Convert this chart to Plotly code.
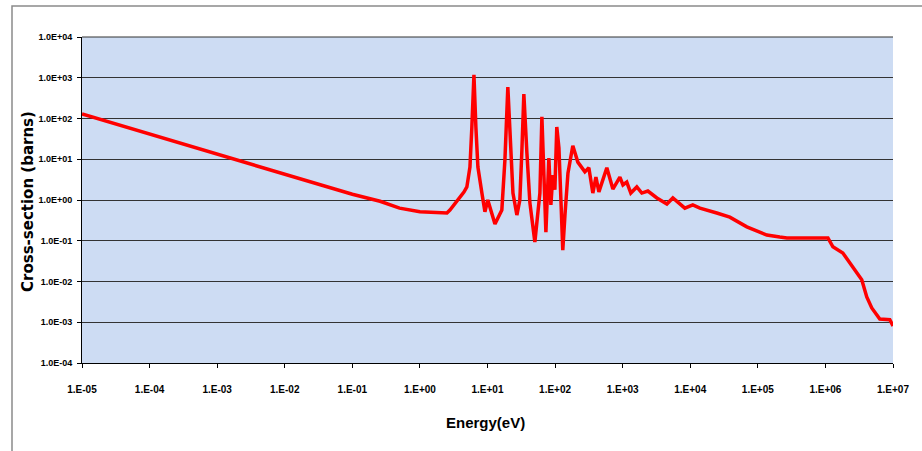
import plotly.graph_objects as go

# ---- data (energy in eV, cross-section in barns) ----
energy_eV = [
    1e-5, 1e-4, 1e-3, 1e-2, 0.1, 0.257, 0.5, 1.0, 2.51,
    2.78, 3.65, 4.48, 4.95, 5.50, 5.87, 6.30, 6.73, 7.21, 8.26,
    9.16, 10.1, 12.9, 16.3, 18.1, 20.0, 21.4, 23.8, 27.2, 30.1,
    32.3, 34.5, 38.3, 42.4, 50.2, 59.6, 63.8, 68.2, 73.1, 80.9,
    86.7, 92.7, 99.3, 106, 114, 122, 130, 140, 155, 183,
    217, 276, 316, 362, 402, 445, 583, 716, 910, 1010,
    1150, 1320, 1620, 1920, 2360, 3210, 4510, 5530, 8320, 10900,
    13900, 24700, 38500, 68700, 1.36e5, 2.11e5, 2.69e5, 1.09e6, 1.29e6, 1.81e6,
    2.54e6, 3.45e6, 4.09e6, 4.85e6, 6.38e6, 8.97e6, 1e7,
]
cross_section_barns = [
    129, 41.5, 13.3, 4.27, 1.38, 0.93, 0.631, 0.513, 0.479,
    0.569, 1.0, 1.57, 2.09, 6.46, 61.7, 1175, 61.7, 6.46, 1.48,
    0.513, 1.0, 0.257, 0.569, 9.55, 589, 61.7, 1.48, 0.427, 1.0,
    17.0, 398, 14.1, 0.851, 0.0933, 1.48, 110, 5.50, 0.162, 10.7,
    0.759, 4.07, 1.78, 61.7, 19.1, 1.0, 0.0589, 0.427, 4.57, 21.4,
    8.51, 4.90, 6.17, 1.48, 3.63, 1.58, 6.17, 1.86, 3.63, 2.34,
    2.75, 1.48, 2.09, 1.48, 1.66, 1.12, 0.794, 1.12, 0.631, 0.759,
    0.631, 0.479, 0.380, 0.219, 0.138, 0.123, 0.117, 0.117, 0.0708, 0.0501,
    0.0229, 0.0110, 0.00417, 0.00224, 0.00120, 0.00115, 0.000813,
]

x_tick_vals = [1e-5, 1e-4, 1e-3, 1e-2, 1e-1, 1e0, 1e1, 1e2, 1e3, 1e4, 1e5, 1e6, 1e7]
x_tick_text = ["1.E-05", "1.E-04", "1.E-03", "1.E-02", "1.E-01", "1.E+00", "1.E+01",
               "1.E+02", "1.E+03", "1.E+04", "1.E+05", "1.E+06", "1.E+07"]
y_tick_vals = [1e-4, 1e-3, 1e-2, 1e-1, 1e0, 1e1, 1e2, 1e3, 1e4]
y_tick_text = ["1.0E-04", "1.0E-03", "1.0E-02", "1.0E-01", "1.0E+00",
               "1.0E+01", "1.0E+02", "1.0E+03", "1.0E+04"]

x_title = "Energy(eV)"
y_title = "Cross-section (barns)"

sans = "Liberation Sans, Arial, sans-serif"

fig = go.Figure(
    go.Scatter(
        x=energy_eV, y=cross_section_barns, mode="lines",
        line=dict(color="#ff0000", width=3.5),
        hoverinfo="skip", showlegend=False,
    )
)

W, H = 922, 451
ml, mr, mt, mb = 82, 29, 37, 88
pw, ph = W - ml - mr, H - mt - mb

fig.update_layout(
    width=W, height=H,
    margin=dict(l=ml, r=mr, t=mt, b=mb, pad=0),
    paper_bgcolor="white",
    plot_bgcolor="#cddcf3",
    xaxis=dict(
        type="log", range=[-5, 7],
        tickvals=x_tick_vals, ticktext=x_tick_text,
        showgrid=False, zeroline=False,
        showline=True, linecolor="black", linewidth=1,
        ticks="outside", ticklen=4, tickcolor="black", tickwidth=1,
        tickfont=dict(family=sans, size=10, color="black", weight="bold"),
        ticklabelstandoff=13,
    ),
    yaxis=dict(
        type="log", range=[-4, 4],
        tickvals=y_tick_vals, ticktext=y_tick_text,
        showgrid=True, gridcolor="#333333", gridwidth=1,
        zeroline=False,
        showline=True, linecolor="black", linewidth=1,
        ticks="outside", ticklen=4, tickcolor="black", tickwidth=1,
        tickfont=dict(family=sans, size=9, color="black", weight="bold"),
        ticklabelstandoff=3,
    ),
    annotations=[
        dict(
            text=x_title, xref="paper", yref="paper",
            x=(485 - ml) / pw, y=-(422 - (H - mb)) / ph,
            xanchor="center", yanchor="middle", showarrow=False,
            font=dict(family=sans, size=15, color="black", weight="bold"),
        ),
        dict(
            text=y_title, xref="paper", yref="paper",
            x=(28 - ml) / pw, y=(H - mb - 202) / ph,
            xanchor="center", yanchor="middle", showarrow=False, textangle=-90,
            font=dict(family="DejaVu Sans, sans-serif", size=15, color="black", weight="bold"),
        ),
    ],
    shapes=[
        dict(
            type="rect", xref="paper", yref="paper",
            x0=(12 - ml) / pw, x1=(930 - ml) / pw,
            y0=-(460 - (H - mb)) / ph, y1=1 + (mt - 6) / ph,
            line=dict(color="#8a8a8a", width=1.5), fillcolor="rgba(0,0,0,0)",
            layer="below",
        ),
        dict(
            type="line", xref="paper", yref="paper",
            x0=0, x1=1, y0=1, y1=1,
            line=dict(color="#333333", width=1), layer="below",
        ),
    ],
)

fig.write_html("out.html")
